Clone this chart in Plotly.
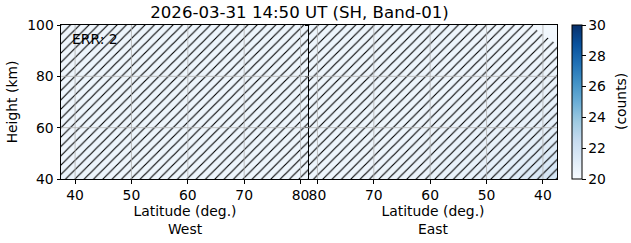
import plotly.graph_objects as go

# ---- data ----
title_text = "2026-03-31 14:50 UT (SH, Band-01)"
heights = [40, 50, 60, 70, 80, 90, 100]
west_lat = [37.5, 42.5, 47.5, 52.5, 57.5, 62.5, 67.5, 72.5, 77.5, 81.5]
east_lat = [81.5, 77.5, 72.5, 67.5, 62.5, 57.5, 52.5, 47.5, 42.5, 37.5]
# counts [height][lat]
west_counts = [
    [20.6, 20.6, 20.5, 20.5, 20.5, 20.5, 20.5, 20.5, 20.5, 20.5],
    [20.5, 20.5, 20.5, 20.5, 20.5, 20.5, 20.5, 20.5, 20.5, 20.5],
    [20.5, 20.5, 20.5, 20.5, 20.5, 20.5, 20.5, 20.5, 20.5, 20.5],
    [20.5, 20.5, 20.5, 20.5, 20.5, 20.5, 20.5, 20.5, 20.5, 20.5],
    [20.5, 20.5, 20.5, 20.5, 20.5, 20.5, 20.5, 20.5, 20.5, 20.5],
    [20.4, 20.5, 20.5, 20.5, 20.5, 20.5, 20.5, 20.5, 20.5, 20.5],
    [20.4, 20.4, 20.5, 20.5, 20.5, 20.5, 20.5, 20.5, 20.5, 20.5],
]
east_counts = [
    [20.5, 20.5, 20.5, 20.6, 20.6, 20.7, 20.8, 21.0, 21.4, 22.0],
    [20.5, 20.5, 20.5, 20.5, 20.6, 20.6, 20.7, 20.8, 21.0, 21.4],
    [20.5, 20.5, 20.5, 20.5, 20.5, 20.6, 20.6, 20.7, 20.8, 21.0],
    [20.5, 20.5, 20.5, 20.5, 20.5, 20.5, 20.6, 20.6, 20.7, 20.8],
    [20.5, 20.5, 20.5, 20.5, 20.5, 20.5, 20.5, 20.5, 20.6, 20.6],
    [20.5, 20.5, 20.5, 20.5, 20.5, 20.5, 20.5, 20.5, 20.4, 20.4],
    [20.5, 20.5, 20.5, 20.5, 20.5, 20.5, 20.4, 20.4, 20.3, 20.2],
]
# error-flag (hatched) region: upper boundary per latitude
west_mask_lat = [37.5, 81.5]
west_mask_top = [100, 100]
east_mask_lat = [81.5, 41.8, 40.8, 38.5, 37.5]
east_mask_top = [100, 100, 97.4, 94.2, 92.2]
mask_bottom = 40
err_count = 2
lat_ticks = [40, 50, 60, 70, 80]
height_ticks = [40, 60, 80, 100]
cbar_ticks = [20, 22, 24, 26, 28, 30]
lat_range = [37.5, 81.5]

blues = [
    [0.0, "#f7fbff"], [0.125, "#deebf7"], [0.25, "#c6dbef"], [0.375, "#9ecae1"],
    [0.5, "#6baed6"], [0.625, "#4292c6"], [0.75, "#2171b5"], [0.875, "#08519c"],
    [1.0, "#08306b"],
]
FONT = "DejaVu Sans"
FS = 13.9

fig = go.Figure()
fig.add_trace(go.Heatmap(x=west_lat, y=heights, z=west_counts, coloraxis="coloraxis",
                         zsmooth="best", xaxis="x", yaxis="y", hoverinfo="skip"))
fig.add_trace(go.Heatmap(x=east_lat, y=heights, z=east_counts, coloraxis="coloraxis",
                         zsmooth="best", xaxis="x2", yaxis="y2", hoverinfo="skip"))


def mask_poly(lats, tops):
    xs = list(lats) + [lats[-1], lats[0]]
    ys = list(tops) + [mask_bottom, mask_bottom]
    return xs, ys


pattern = dict(shape="/", fgcolor="black", bgcolor="rgba(0,0,0,0)", size=6.6,
               solidity=0.17, fillmode="replace")
for lats, tops, xa, ya in [(west_mask_lat, west_mask_top, "x", "y"),
                           (east_mask_lat, east_mask_top, "x2", "y2")]:
    xs, ys = mask_poly(lats, tops)
    fig.add_trace(go.Scatter(x=xs, y=ys, mode="lines", fill="toself",
                             fillcolor="rgba(0,0,0,0)", line=dict(width=0),
                             fillpattern=pattern, xaxis=xa, yaxis=ya,
                             hoverinfo="skip", showlegend=False))

axis_common = dict(showline=True, mirror=True, linecolor="black", linewidth=1,
                   ticks="outside", ticklen=3.5, tickwidth=0.8, tickcolor="black",
                   showgrid=False, zeroline=False, automargin=False,
                   tickfont=dict(family=FONT, size=FS, color="black"))

fig.update_layout(
    width=631, height=243,
    margin=dict(l=61, r=74, t=25, b=64, autoexpand=False),
    paper_bgcolor="white", plot_bgcolor="white",
    showlegend=False,
    title=dict(text=title_text, x=299.5 / 631, xanchor="center", y=0.95, yanchor="middle",
               font=dict(family=FONT, size=16.6, color="black")),
    xaxis=dict(domain=[0, 0.5], range=lat_range, tickvals=lat_ticks, anchor="y",
               title=dict(text="Latitude (deg.)<br>West", standoff=4,
                          font=dict(family=FONT, size=FS, color="black")),
               **axis_common),
    xaxis2=dict(domain=[0.5, 1], range=lat_range[::-1], tickvals=lat_ticks, anchor="y2",
                title=dict(text="Latitude (deg.)<br>East", standoff=4,
                           font=dict(family=FONT, size=FS, color="black")),
                **axis_common),
    yaxis=dict(range=[40, 100], tickvals=height_ticks, anchor="x",
               title=dict(text="Height (km)", standoff=6,
                          font=dict(family=FONT, size=FS, color="black")),
               **axis_common),
    yaxis2=dict(range=[40, 100], tickvals=height_ticks, anchor="x2", matches="y",
                showticklabels=False, **axis_common),
    coloraxis=dict(
        cmin=20, cmax=30, colorscale=blues,
        colorbar=dict(x=1 + 15 / 496, xanchor="left", y=0.5, yanchor="middle",
                      len=1, lenmode="fraction", thickness=10, thicknessmode="pixels",
                      xpad=0, ypad=0, outlinewidth=1, outlinecolor="black",
                      ticks="outside", ticklen=3.5, tickwidth=0.8, tickcolor="black",
                      tickvals=cbar_ticks,
                      tickfont=dict(family=FONT, size=FS, color="black")),
    ),
)

# grid lines drawn above the image (as in the reference)
grid = dict(color="#b0b0b0", width=0.8)
shapes = []
for t in lat_ticks:
    shapes.append(dict(type="line", xref="x", yref="y domain", x0=t, x1=t, y0=0, y1=1,
                       line=grid, layer="above"))
    shapes.append(dict(type="line", xref="x2", yref="y2 domain", x0=t, x1=t, y0=0, y1=1,
                       line=grid, layer="above"))
for h in height_ticks[1:-1]:
    shapes.append(dict(type="line", xref="paper", yref="y", x0=0, x1=1, y0=h, y1=h,
                       line=grid, layer="above"))
fig.update_layout(shapes=shapes)

fig.add_annotation(text=f"ERR: {err_count}", xref="x domain", yref="y domain",
                   x=8.5 / 248, y=1, yshift=-4, xanchor="left", yanchor="top", showarrow=False,
                   font=dict(family=FONT, size=FS, color="black"))
# colorbar label
fig.add_annotation(text="(counts)", xref="paper", yref="paper",
                   x=(621 - 61) / 496, y=0.5, xanchor="center", yanchor="middle",
                   textangle=-90, showarrow=False,
                   font=dict(family=FONT, size=FS, color="black"))

fig.write_html("out.html")
